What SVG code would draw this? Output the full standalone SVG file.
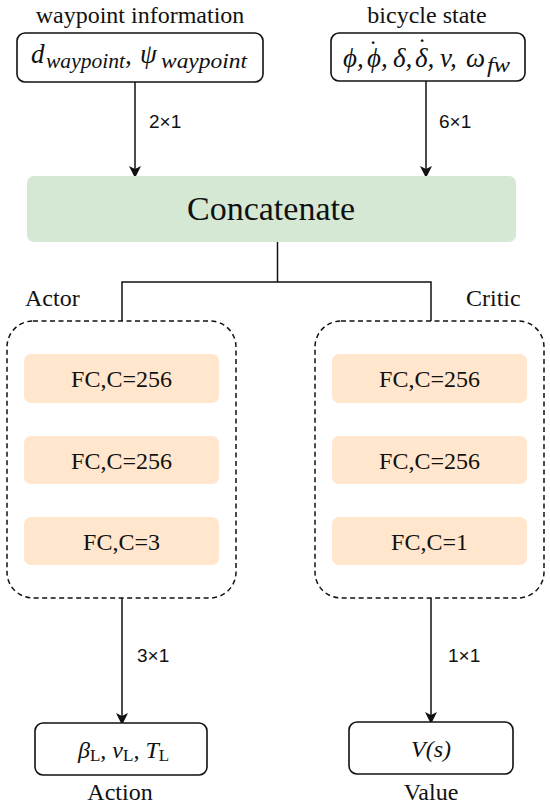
<svg xmlns="http://www.w3.org/2000/svg" width="550" height="806" viewBox="0 0 550 806">
<style>
.lbl{font-family:"Liberation Serif","Times New Roman",serif;font-size:24px;fill:#111}
.m{font-family:"Liberation Serif","DejaVu Serif",serif;font-style:italic;font-size:27px;fill:#111}
.ms{font-family:"Liberation Serif","DejaVu Serif",serif;font-style:italic;font-size:20px;fill:#111}
.mu{font-family:"Liberation Serif","DejaVu Serif",serif;font-size:17px;fill:#111}
.dot{font-style:normal;font-size:26px;text-anchor:middle}
.dim{font-family:"Liberation Sans",Arial,sans-serif;font-size:19px;fill:#111}
.box{fill:#fff;stroke:#111;stroke-width:1.6}
.fc{fill:#ffe6cc}
.fct{font-family:"Liberation Serif","Times New Roman",serif;font-size:24px;fill:#111;text-anchor:middle}
.dash{fill:none;stroke:#111;stroke-width:1.5;stroke-dasharray:5 3.5}
.conn{fill:none;stroke:#111;stroke-width:1.5}
</style>
<defs>
<marker id="arr" viewBox="0 0 10 12" refX="10" refY="6" markerWidth="10" markerHeight="12" markerUnits="userSpaceOnUse" orient="auto">
<path d="M0,0 L12,6 L0,12 L3,6 Z" fill="#111"/>
</marker>
</defs>
<rect width="550" height="806" fill="#fff"/>

<g id="waypoint">
<text class="lbl" x="140" y="23" text-anchor="middle">waypoint information</text>
<rect class="box" x="17" y="33" width="246" height="49" rx="8"/>
<text class="m" x="31" y="63">d</text>
<text class="ms" x="46" y="68" textLength="79" lengthAdjust="spacingAndGlyphs">waypoint</text>
<text class="m" x="125" y="64">,</text>
<text class="m" x="140" y="63">ψ</text>
<text class="ms" x="161" y="68" textLength="86" lengthAdjust="spacingAndGlyphs">waypoint</text>
</g>

<g id="bicycle">
<text class="lbl" x="427" y="23" text-anchor="middle">bicycle state</text>
<rect class="box" x="331" y="33" width="194" height="48" rx="8"/>
<text class="m" x="343" y="67">ϕ,</text>
<text class="m" x="367" y="67">ϕ,<tspan class="dot" x="373" y="58">˙</tspan></text>
<text class="m" x="393" y="67">δ,</text>
<text class="m" x="415" y="67">δ,<tspan class="dot" x="422" y="56">˙</tspan></text>
<text class="m" x="440" y="67">v,</text>
<text class="m" x="466" y="67">ω</text>
<text class="ms" x="487" y="72" textLength="23" lengthAdjust="spacingAndGlyphs">fw</text>
</g>

<g id="concat">
<rect x="27" y="176" width="489" height="66" rx="7" fill="#d5e8d4"/>
<text x="271" y="220" text-anchor="middle" style="font-family:'Liberation Serif','Times New Roman',serif;font-size:34px;fill:#111">Concatenate</text>
</g>

<g id="actor">
<text class="lbl" x="25" y="306">Actor</text>
<rect class="dash" x="7" y="321" width="229" height="277" rx="26"/>
</g>
<g id="actor-fc1"><rect class="fc" x="24" y="354" width="195" height="49" rx="7"/><text class="fct" x="121.5" y="387">FC,C=256</text></g>
<g id="actor-fc2"><rect class="fc" x="24" y="436" width="195" height="48" rx="7"/><text class="fct" x="121.5" y="469">FC,C=256</text></g>
<g id="actor-fc3"><rect class="fc" x="24" y="517" width="195" height="48" rx="7"/><text class="fct" x="121.5" y="550">FC,C=3</text></g>

<g id="critic">
<text class="lbl" x="466" y="306">Critic</text>
<rect class="dash" x="315" y="321" width="229" height="277" rx="26"/>
</g>
<g id="critic-fc1"><rect class="fc" x="332" y="354" width="195" height="49" rx="7"/><text class="fct" x="429.5" y="387">FC,C=256</text></g>
<g id="critic-fc2"><rect class="fc" x="332" y="436" width="195" height="48" rx="7"/><text class="fct" x="429.5" y="469">FC,C=256</text></g>
<g id="critic-fc3"><rect class="fc" x="332" y="517" width="195" height="48" rx="7"/><text class="fct" x="429.5" y="550">FC,C=1</text></g>

<g id="action">
<rect class="box" x="35" y="723" width="172" height="52" rx="8"/>
<text class="m" x="78" y="758" style="font-size:24px">β<tspan class="mu" font-style="normal" dy="3">L</tspan><tspan dy="-3">, v</tspan><tspan class="mu" font-style="normal" dy="3">L</tspan><tspan dy="-3">, T</tspan><tspan class="mu" font-style="normal" dy="3">L</tspan></text>
<text class="lbl" x="120" y="800" text-anchor="middle">Action</text>
</g>

<g id="value">
<rect class="box" x="349" y="722" width="164" height="52" rx="8"/>
<text x="431" y="757" text-anchor="middle" style="font-family:'Liberation Serif','Times New Roman',serif;font-style:italic;font-size:24px;fill:#111">V(s)</text>
<text class="lbl" x="431" y="800" text-anchor="middle">Value</text>
</g>

<g id="connectors">
<line class="conn" x1="135" y1="82" x2="135" y2="176" marker-end="url(#arr)"/>
<text class="dim" x="149" y="128">2×1</text>
<line class="conn" x1="426" y1="81" x2="426" y2="176" marker-end="url(#arr)"/>
<text class="dim" x="439" y="128">6×1</text>
<polyline class="conn" points="277.5,242 277.5,282 122,282 122,321"/>
<polyline class="conn" points="277.5,282 431,282 431,321"/>
<line class="conn" x1="122" y1="598" x2="122" y2="723" marker-end="url(#arr)"/>
<text class="dim" x="137" y="662">3×1</text>
<line class="conn" x1="431" y1="598" x2="431" y2="722" marker-end="url(#arr)"/>
<text class="dim" x="448" y="662">1×1</text>
</g>
</svg>
